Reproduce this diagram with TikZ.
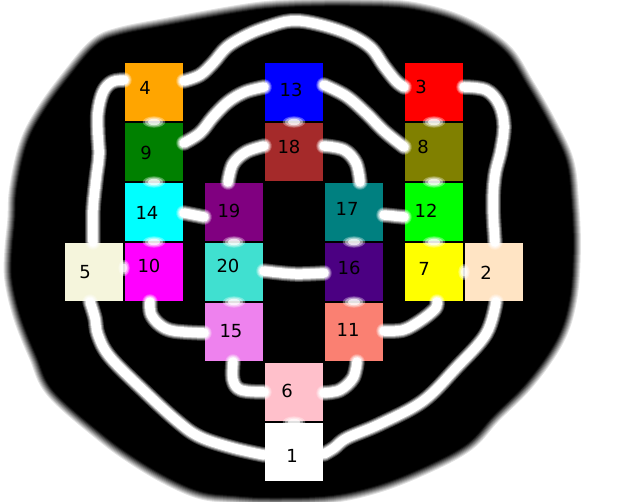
\documentclass[tikz,border=0pt]{standalone}
\usepackage{fontspec}
\setmainfont{DejaVu Sans}
\usetikzlibrary{calc}
\definecolor{cgreen}{RGB}{0,128,0}
\definecolor{cbrown}{RGB}{165,42,42}
\definecolor{colive}{RGB}{128,128,0}
\definecolor{ccyan}{RGB}{0,255,255}
\definecolor{cpurple}{RGB}{128,0,128}
\definecolor{cteal}{RGB}{0,128,128}
\definecolor{clime}{RGB}{0,255,0}
\definecolor{cbeige}{RGB}{245,245,220}
\definecolor{cmagenta}{RGB}{255,0,255}
\definecolor{cturq}{RGB}{64,224,208}
\definecolor{cindigo}{RGB}{75,0,130}
\definecolor{cyellow}{RGB}{255,255,0}
\definecolor{cbisque}{RGB}{255,228,196}
\definecolor{cviolet}{RGB}{238,130,238}
\definecolor{csalmon}{RGB}{250,128,114}
\definecolor{cpink}{RGB}{255,192,203}
\definecolor{corange}{RGB}{255,165,0}
\definecolor{cblue}{RGB}{0,0,255}
\definecolor{cred}{RGB}{255,0,0}
\begin{document}
\begin{tikzpicture}[x=1pt,y=-1pt,
  box/.style={draw=none, minimum size=58pt, inner sep=0pt, outer sep=0pt},
  num/.style={font=\fontsize{18}{18}\selectfont, inner sep=0pt, text=black},
  wire/.style={draw=white, line width=9.5pt, line cap=round, line join=round,
    preaction={draw=white, opacity=.25, line width=15.5pt, line cap=round, line join=round},
    preaction={draw=white, opacity=.33, line width=13.5pt, line cap=round, line join=round},
    preaction={draw=white, opacity=.5, line width=11.5pt, line cap=round, line join=round}},
  gapv/.style={to path={($(\tikztostart)!.5!(\tikztotarget)$) ellipse [x radius=#1*9pt, y radius=#1*4.5pt]}},
  gaph/.style={to path={($(\tikztostart)!.5!(\tikztotarget)$) ellipse [x radius=#1*4.5pt, y radius=#1*6.5pt]}}
]
\useasboundingbox (0,0) rectangle (626,502);
\fill[white] (0,0) rectangle (626,502);
% black blob with soft edge
\begin{scope}[shift={(300,251)}, scale=0.985, shift={(-300,-251)}]
\foreach \k in {1,...,8}
  \draw[black, line width=2*\k pt, opacity={1/(\k+0.5)}] plot[smooth cycle, tension=0.6] coordinates {
    (313,3) (360,3) (413,6) (463,20) (506,47) (530,83) (553,123) (570,160) (575,200)
    (577,250) (573,301) (560,341) (530,384) (496,418) (470,446) (430,468) (380,488)
    (330,499) (270,501) (233,499) (200,495) (167,481) (133,461) (100,437) (50,393)
    (33,358) (17,318) (8,280) (8,251) (11,220) (13,187) (23,143) (40,110) (67,73)
    (93,43) (117,32) (167,22) (233,10) (270,5)};
\fill[black] plot[smooth cycle, tension=0.6] coordinates {
    (313,3) (360,3) (413,6) (463,20) (506,47) (530,83) (553,123) (570,160) (575,200)
    (577,250) (573,301) (560,341) (530,384) (496,418) (470,446) (430,468) (380,488)
    (330,499) (270,501) (233,499) (200,495) (167,481) (133,461) (100,437) (50,393)
    (33,358) (17,318) (8,280) (8,251) (11,220) (13,187) (23,143) (40,110) (67,73)
    (93,43) (117,32) (167,22) (233,10) (270,5)};
\end{scope}
% boxes
\node[box, fill=corange] (n4) at (154,92) {};
\node[box, fill=cblue] (n13) at (294,92) {};
\node[box, fill=cred] (n3) at (434,92) {};
\node[box, fill=cgreen] (n9) at (154,152) {};
\node[box, fill=cbrown] (n18) at (294,152) {};
\node[box, fill=colive] (n8) at (434,152) {};
\node[box, fill=ccyan] (n14) at (154,212) {};
\node[box, fill=cpurple] (n19) at (234,212) {};
\node[box, fill=cteal] (n17) at (354,212) {};
\node[box, fill=clime] (n12) at (434,212) {};
\node[box, fill=cbeige] (n5) at (94,272) {};
\node[box, fill=cmagenta] (n10) at (154,272) {};
\node[box, fill=cturq] (n20) at (234,272) {};
\node[box, fill=cindigo] (n16) at (354,272) {};
\node[box, fill=cyellow] (n7) at (434,272) {};
\node[box, fill=cbisque] (n2) at (494,272) {};
\node[box, fill=cviolet] (n15) at (234,332) {};
\node[box, fill=csalmon] (n11) at (354,332) {};
\node[box, fill=cpink] (n6) at (294,392) {};
\node[box, fill=white] (n1) at (294,452) {};
% labels
\node[num] (t4) at (145,88) {4};
\node[num] (t13) at (291,90) {13};
\node[num] (t3) at (421,87) {3};
\node[num] (t9) at (146,153) {9};
\node[num] (t18) at (289,147) {18};
\node[num] (t8) at (423,147) {8};
\node[num] (t14) at (147,213) {14};
\node[num] (t19) at (229,211) {19};
\node[num] (t17) at (347,209) {17};
\node[num] (t12) at (426,211) {12};
\node[num] (t5) at (85,272) {5};
\node[num] (t10) at (149,266) {10};
\node[num] (t20) at (228,266) {20};
\node[num] (t16) at (349,268) {16};
\node[num] (t7) at (424,269) {7};
\node[num] (t2) at (486,273) {2};
\node[num] (t15) at (231,331) {15};
\node[num] (t11) at (348,330) {11};
\node[num] (t6) at (287,391) {6};
\node[num] (t1) at (292,456) {1};
% connector end points
\coordinate (e1a) at ($(n4.east)+(1,-11)$);   \coordinate (e1b) at ($(n3.west)+(-1,-5)$);
\coordinate (e2a) at ($(n9.east)+(1,-9)$);    \coordinate (e2b) at ($(n13.west)+(-1,-5)$);
\coordinate (e3a) at ($(n13.east)+(1,-7)$);   \coordinate (e3b) at ($(n8.west)+(-1,-5)$);
\coordinate (e4a) at ($(n18.east)+(1,-6)$);   \coordinate (e4b) at ($(n17.north)+(6,-1)$);
\coordinate (e5a) at ($(n18.west)+(-1,-6)$);  \coordinate (e5b) at ($(n19.north)+(-6,-1)$);
\coordinate (e6a) at ($(n14.east)+(1,1)$);    \coordinate (e6b) at ($(n19.west)+(-1,5)$);
\coordinate (e7a) at ($(n17.east)+(1,3)$);    \coordinate (e7b) at ($(n12.west)+(-1,5)$);
\coordinate (e8a) at ($(n3.east)+(1,-5)$);    \coordinate (e8b) at ($(n2.north)+(1,-1)$);
\coordinate (e9a) at ($(n4.west)+(-1,-12)$);  \coordinate (e9b) at ($(n5.north)+(-1,-1)$);
\coordinate (e10a) at ($(n5.south)+(-4,1)$);  \coordinate (e10b) at ($(n1.west)+(-1,3)$);
\coordinate (e11a) at ($(n1.east)+(1,2)$);    \coordinate (e11b) at ($(n2.south)+(2,1)$);
\coordinate (e12a) at ($(n10.south)+(-4,1)$); \coordinate (e12b) at ($(n15.west)+(-1,1)$);
\coordinate (e13a) at ($(n15.south)+(-1,1)$); \coordinate (e13b) at ($(n6.west)+(-1,0)$);
\coordinate (e14a) at ($(n6.east)+(1,1)$);    \coordinate (e14b) at ($(n11.south)+(3,1)$);
\coordinate (e15a) at ($(n11.east)+(1,-1)$);  \coordinate (e15b) at ($(n7.south)+(3,1)$);
\coordinate (e16a) at ($(n20.east)+(1,-1)$);  \coordinate (e16b) at ($(n16.west)+(-1,1)$);
% long connectors
\draw[wire] plot[smooth, tension=0.6] coordinates {(e1a) (200,75) (213,63) (227,47) (247,35) (267,27) (290,21) (313,23) (346,33) (370,47) (384,66) (396,81) (e1b)};
\draw[wire] plot[smooth, tension=0.6] coordinates {(e2a) (200,133) (213,117) (228,102) (245,92) (e2b)};
\draw[wire] plot[smooth, tension=0.6] coordinates {(e3a) (346,96) (366,113) (384,131) (e3b)};
\draw[wire] plot[smooth, tension=0.6] coordinates {(e4a) (344,150) (356,163) (e4b)};
\draw[wire] plot[smooth, tension=0.6] coordinates {(e5a) (246,152) (233,164) (e5b)};
\draw[wire] (e6a) -- (e6b);
\draw[wire] (e7a) -- (e7b);
\draw[wire] plot[smooth, tension=0.6] coordinates {(e8a) (486,90) (499,104) (504,125) (501,150) (495,175) (493,205) (e8b)};
\draw[wire] plot[smooth, tension=0.6] coordinates {(e9a) (112,82) (103,92) (98,112) (98,135) (99,155) (96,180) (93,210) (e9b)};
\draw[wire] plot[smooth, tension=0.6] coordinates {(e10a) (95,318) (98,335) (110,357) (143,390) (177,421) (200,437) (233,448) (e10b)};
\draw[wire] plot[smooth, tension=0.6] coordinates {(e11a) (334,448) (347,438) (380,424) (423,401) (456,368) (486,334) (e11b)};
\draw[wire] plot[smooth, tension=0.6] coordinates {(e12a) (151,314) (160,325) (174,331) (e12b)};
\draw[wire] plot[smooth, tension=0.6] coordinates {(e13a) (233,380) (241,390) (e13b)};
\draw[wire] plot[smooth, tension=0.6] coordinates {(e14a) (340,390) (353,378) (e14b)};
\draw[wire] plot[smooth, tension=0.6] coordinates {(e15a) (403,330) (420,321) (435,309) (e15b)};
\draw[wire] plot[smooth, tension=0.6] coordinates {(e16a) (295,274) (e16b)};
% short connectors between touching boxes (soft white blobs)
\foreach \s/\o in {1.25/0.3, 1/0.45, 0.7/0.7} {
  \path[fill=white, fill opacity=\o, gapv=\s] (n4.south) to (n9.north);
  \path[fill=white, fill opacity=\o, gapv=\s] (n9.south) to (n14.north);
  \path[fill=white, fill opacity=\o, gapv=\s] (n14.south) to (n10.north);
  \path[fill=white, fill opacity=\o, gapv=\s] (n13.south) to (n18.north);
  \path[fill=white, fill opacity=\o, gapv=\s] (n3.south) to (n8.north);
  \path[fill=white, fill opacity=\o, gapv=\s] (n8.south) to (n12.north);
  \path[fill=white, fill opacity=\o, gapv=\s] (n12.south) to (n7.north);
  \path[fill=white, fill opacity=\o, gapv=\s] (n19.south) to (n20.north);
  \path[fill=white, fill opacity=\o, gapv=\s] (n20.south) to (n15.north);
  \path[fill=white, fill opacity=\o, gapv=\s] (n17.south) to (n16.north);
  \path[fill=white, fill opacity=\o, gapv=\s] (n16.south) to (n11.north);
  \path[fill=white, fill opacity=\o, gapv=\s] (n6.south) to (n1.north);
  \path[fill=white, fill opacity=\o, gaph=\s] ($(n5.east)+(0,-4)$) to ($(n10.west)+(0,-4)$);
  \path[fill=white, fill opacity=\o, gaph=\s] (n7.east) to (n2.west);
}
\end{tikzpicture}
\end{document}
